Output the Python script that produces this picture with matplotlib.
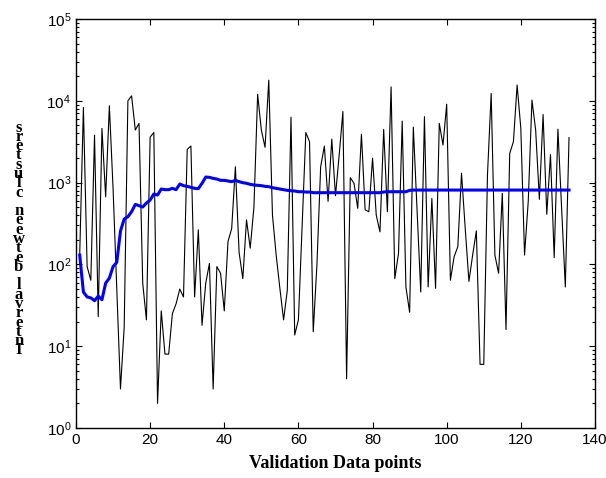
import matplotlib
matplotlib.use("Agg")
import matplotlib.pyplot as plt
import numpy as np

# validation data points 1..133
points = np.arange(1, 134)

# black trace: per-point value
actual = [130, 8300, 94, 64, 3800, 23, 4600, 670, 8700, 850,
          50, 3.0, 17, 10000, 11500, 4400, 5300, 59, 21, 3600,
          4100, 2.0, 27, 8, 8, 25, 33, 50, 40, 2550,
          2800, 40, 265, 18, 59, 103, 3.0, 94, 78, 27,
          190, 275, 1560, 140, 67, 350, 158, 500, 12000, 4400,
          2700, 17900, 400, 130, 51, 21, 48, 6300, 13.7, 21,
          300, 4100, 3170, 15, 100, 1560, 2800, 590, 3400, 690,
          2180, 7400, 4.0, 1150, 980, 485, 3900, 465, 440, 1990,
          400, 250, 4470, 440, 14800, 67, 136, 5650, 53, 26,
          4770, 470, 46, 6400, 53, 640, 51, 5300, 2880, 9100,
          64, 124, 165, 1300, 275, 62, 130, 257, 6.0, 6.0,
          1240, 12300, 130, 78, 740, 16, 2270, 3170, 15600, 4600,
          130, 590, 10200, 4400, 625, 6800, 410, 2200, 121, 4500,
          485, 53, 3550]

# blue trace: smoothed estimate
estimate = [130, 46, 40, 39, 36, 41, 37, 59, 68, 94,
            106, 256, 359, 383, 441, 542, 522, 503, 563, 613,
            726, 705, 835, 820, 820, 851, 820, 962, 918, 900,
            875, 851, 843, 980, 1170, 1160, 1127, 1106, 1066, 1066,
            1046, 1027, 1066, 1027, 998, 980, 952, 935, 926, 918,
            900, 892, 867, 851, 835, 820, 804, 797, 789, 774,
            774, 767, 767] + [753] * 19 + [767] + [774] * 6 + [804] + [811] * 43

fig = plt.figure(figsize=(6.06, 4.78), dpi=100)
ax = fig.add_axes([0.1254, 0.1046, 0.8564, 0.8556])

ax.plot(points, actual, color="black", lw=0.8)
ax.plot(points, estimate, color=(0, 0, 1), lw=2.2)

ax.set_yscale("log")
ax.set_xlim(0, 140)
ax.set_ylim(1, 1e5)
ax.set_xticks(np.arange(0, 141, 20))

ax.tick_params(which="both", direction="in", top=True, right=True,
               labelsize=11, width=0.8)
ax.tick_params(which="major", length=4.5)
ax.tick_params(which="minor", length=2.5)
ax.xaxis.set_minor_locator(matplotlib.ticker.NullLocator())
for lbl in ax.get_xticklabels() + ax.get_yticklabels():
    lbl.set_family("Liberation Sans")
for s in ax.spines.values():
    s.set_linewidth(1.0)

ax.set_xlabel("Validation Data points", family="Liberation Serif",
              weight="bold", fontsize=13, labelpad=6)

# y label drawn as stacked upright letters (as in the source figure)
ylab = "Interval between clusters"
fig.text(0.031, 0.50, "\n".join(reversed(ylab)), family="Liberation Serif",
         weight="bold", fontsize=12, ha="center", va="center",
         linespacing=0.44)

fig.savefig("out.png", dpi=100)
